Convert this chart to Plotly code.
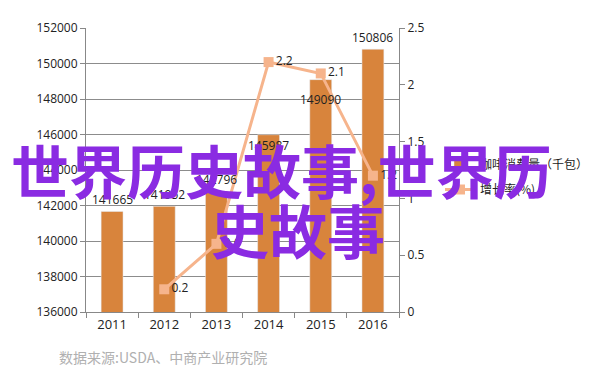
import plotly.graph_objects as go

years = ["2011", "2012", "2013", "2014", "2015", "2016"]
consumption = [141665, 141952, 142796, 145987, 149090, 150806]
growth = [None, 0.2, 0.6, 2.2, 2.1, 1.2]
bar_name = "咖啡消费量（千包）"
line_name = "增长率(%)"
overlay_line1 = "世界历史故事,世界历"
overlay_line2 = "史故事"
source_text = "数据来源:USDA、中商产业研究院"

BAR_COLOR = "#D8843C"
LINE_COLOR = "#F6B48C"
FONT = "Open Sans, Noto Sans CJK SC, sans-serif"
CJK = "Noto Sans CJK SC, sans-serif"

xpos = [int(y) for y in years]
# label vertical shifts (px) for bar value labels
label_shift = [1, 1, 1, -21, -30, 1]

fig = go.Figure()
fig.add_trace(go.Bar(
    x=xpos, y=consumption, name=bar_name, marker_color=BAR_COLOR,
    width=0.42, yaxis="y", legendgroup="a",
))
fig.add_trace(go.Scatter(
    x=xpos, y=growth, name=line_name, yaxis="y2", mode="lines+markers+text",
    line=dict(color=LINE_COLOR, width=3),
    marker=dict(symbol="square", size=10, color=LINE_COLOR),
    text=[None if g is None else f"{g}" for g in growth],
    textposition="middle right",
    textfont=dict(family=FONT, size=12, color="#222"),
    connectgaps=False, legendgroup="b",
))

annotations = []
for xp, v, s in zip(xpos, consumption, label_shift):
    annotations.append(dict(
        x=xp, y=v, xref="x", yref="y", text=str(v), showarrow=False,
        yanchor="bottom", yshift=s, font=dict(family=FONT, size=12, color="#222"),
    ))
annotations.append(dict(
    x=(281 - 86) / 313, y=(312 - 169) / 284, xref="paper", yref="paper",
    text=overlay_line1, showarrow=False, xanchor="center", yanchor="middle",
    font=dict(family=CJK, size=58, color="#8A2BE2", weight="bold"),
))
annotations.append(dict(
    x=(298 - 86) / 313, y=(312 - 229) / 284, xref="paper", yref="paper",
    text=overlay_line2, showarrow=False, xanchor="center", yanchor="middle",
    font=dict(family=CJK, size=58, color="#8A2BE2", weight="bold"),
))
annotations.append(dict(
    x=(163 - 86) / 313, y=(312 - 357) / 284, xref="paper", yref="paper",
    text=source_text, showarrow=False, xanchor="center", yanchor="middle",
    font=dict(family=CJK, size=14, color="#B0B0B0"),
))

fig.update_layout(
    width=594, height=376, autosize=False,
    margin=dict(l=78, r=203, t=20, b=72, autoexpand=False),
    paper_bgcolor="white", plot_bgcolor="white",
    font=dict(family=FONT, size=12, color="#222"),
    showlegend=True,
    legend=dict(
        x=(440 - 86) / 313, y=(312 - 150) / 284, xanchor="left", yanchor="top",
        font=dict(family=CJK, size=12, color="#222"), bgcolor="rgba(0,0,0,0)",
        tracegroupgap=6,
    ),
    xaxis=dict(
        range=[xpos[0] - 0.5, xpos[-1] + 0.5],
        tickvals=xpos, ticktext=years, ticks="",
        showline=True, linecolor="#888", linewidth=1,
        showgrid=False, zeroline=False, tickfont=dict(size=13),
        minor=dict(ticks="outside", tick0=xpos[0] - 0.5, dtick=1, ticklen=5,
                   tickcolor="#888", showgrid=False),
    ),
    yaxis=dict(
        range=[136000, 152000], dtick=2000, tickformat="d",
        showgrid=True, gridcolor="#8C8C8C",
        gridwidth=1, showline=True, linecolor="#888", ticks="outside",
        ticklen=5, tickcolor="#888", tickfont=dict(size=12), zeroline=False,
    ),
    yaxis2=dict(
        range=[0, 2.5], dtick=0.5, overlaying="y", side="right", showgrid=False,
        showline=True, linecolor="#888", ticks="outside", ticklen=5,
        tickcolor="#888", tickfont=dict(size=12), zeroline=False,
    ),
    annotations=annotations,
)

fig.write_html("out.html")
